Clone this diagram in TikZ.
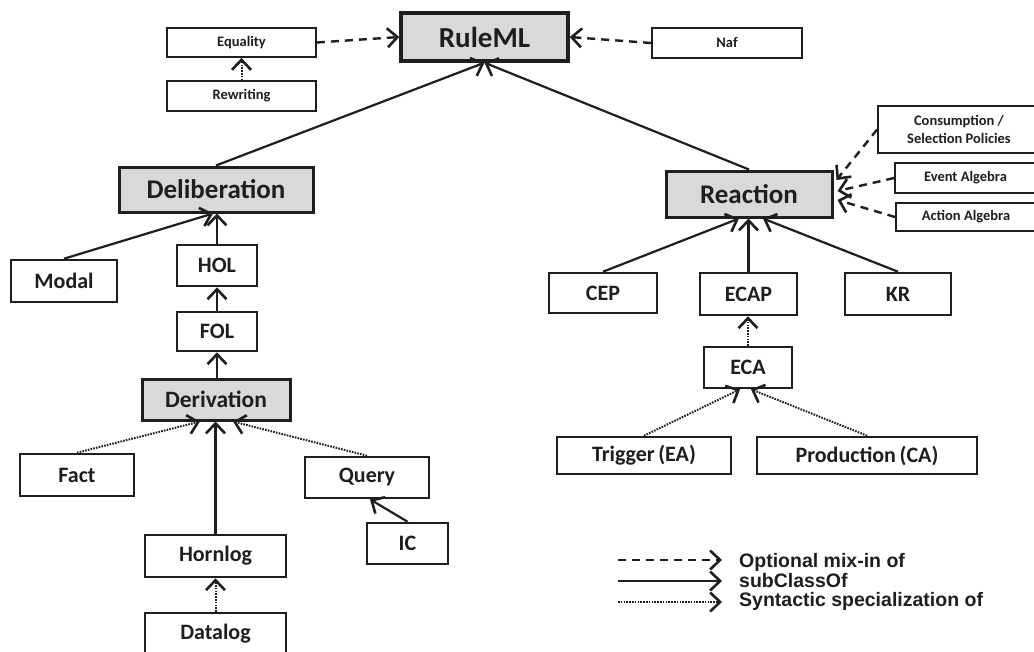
\documentclass[tikz,border=0pt]{standalone}
\usepackage{fontspec}
\setmainfont{Carlito}
\newfontfamily\legendfont{Liberation Sans}
\usetikzlibrary{arrows.meta,calc}
\definecolor{boxgray}{HTML}{D9D9D9}
\definecolor{ink}{HTML}{1E1E1E}
\begin{document}
\begin{tikzpicture}[x=1pt,y=-1pt,
  box/.style={draw=ink, line width=2.6pt, inner sep=0pt, text=ink,
    font=\bfseries\fontsize{22}{24}\selectfont, align=center},
  graybox/.style={box, fill=boxgray, line width=3pt},
  smallbox/.style={draw=ink, line width=1.8pt, inner sep=0pt, text=ink,
    font=\bfseries\fontsize{14.5}{17}\selectfont, align=center},
  tip/.style={-{Straight Barb[length=10pt,width=19pt,line width=2.6pt]}},
  subclass/.style={draw=ink, line width=2.2pt, tip},
  mixin/.style={draw=ink, line width=2.4pt, dash pattern=on 8pt off 6pt, tip},
  syntactic/.style={draw=ink, line width=2pt, dash pattern=on 1.6pt off 1.2pt, tip},
  legendtext/.style={anchor=west, inner sep=0pt, text=ink,
    font=\legendfont\bfseries\fontsize{19.5}{21}\selectfont}
]
\fill[white] (0,0) rectangle (1034,651);
\useasboundingbox (0,0) rectangle (1034,651);

% top level
\node[graybox, line width=3.4pt, minimum width=167, minimum height=48,
  font=\bfseries\fontsize{29}{31}\selectfont] (ruleml) at (484.5,37) {RuleML};
\node[smallbox, minimum width=149, minimum height=29] (equality) at (241.5,42.5) {Equality};
\node[smallbox, minimum width=149, minimum height=30] (rewriting) at (241.5,96) {Rewriting};
\node[smallbox, minimum width=150, minimum height=30] (naf) at (727,43) {Naf};

% deliberation branch
\node[graybox, minimum width=194, minimum height=45,
  font=\bfseries\fontsize{27}{29}\selectfont] (delib) at (216,189.5) {Deliberation};
\node[box, minimum width=106, minimum height=42] (modal) at (64,281) {Modal};
\node[box, minimum width=80, minimum height=41] (hol) at (217,265.5) {HOL};
\node[box, minimum width=80, minimum height=39] (fol) at (217,331.5) {FOL};
\node[graybox, minimum width=148, minimum height=41,
  font=\bfseries\fontsize{23.5}{25}\selectfont] (deriv) at (216,399.5) {Derivation};
\node[box, minimum width=114, minimum height=42] (fact) at (77,475) {Fact};
\node[box, minimum width=124, minimum height=41] (query) at (367,477.5) {Query};
\node[box, minimum width=81, minimum height=41] (ic) at (407.5,543.5) {IC};
\node[box, minimum width=141, minimum height=42] (hornlog) at (215.5,556) {Hornlog};
\node[box, minimum width=141, minimum height=42] (datalog) at (215.5,634) {Datalog};

% reaction branch
\node[graybox, minimum width=166, minimum height=46,
  font=\bfseries\fontsize{27}{29}\selectfont] (reaction) at (749,194) {Reaction};
\node[smallbox, minimum width=162, minimum height=47,
  font=\bfseries\fontsize{14.5}{17.5}\selectfont] (policies) at (959,129.5)
  {Consumption /\\Selection Policies};
\node[smallbox, minimum width=141, minimum height=30] (evalg) at (965.5,178) {Event Algebra};
\node[smallbox, minimum width=140, minimum height=28] (acalg) at (966,217) {Action Algebra};
\node[box, minimum width=108, minimum height=40] (cep) at (603,293) {CEP};
\node[box, minimum width=97, minimum height=42] (ecap) at (748.5,294) {ECAP};
\node[box, minimum width=106, minimum height=42] (kr) at (898,294) {KR};
\node[box, minimum width=88, minimum height=41] (eca) at (748,367.5) {ECA};
\node[box, minimum width=174, minimum height=37] (trigger) at (644,455.5) {Trigger\,(EA)};
\node[box, minimum width=220, minimum height=37] (production) at (867,455.5) {Production\,(CA)};

% optional mix-ins
\draw[mixin] (equality.east) -- (ruleml.west);
\draw[mixin] (naf.west) -- (ruleml.east);
\draw[mixin] (policies.west) -- ($(reaction.east)+(3,-14)$);
\draw[mixin] (evalg.west) -- ($(reaction.east)+(4,-3)$);
\draw[mixin] (acalg.west) -- ($(reaction.east)+(4,6)$);

% subclass relations
\draw[subclass] (delib.north) -- (ruleml.south);
\draw[subclass] (reaction.north) -- (ruleml.south);
\draw[subclass] (modal.north) -- ($(delib.south)+(-3,0)$);
\draw[subclass] (hol.north) -- (delib.south -| hol.north);
\draw[subclass] (fol.north) -- (hol.south);
\draw[subclass] (deriv.north -| fol.south) -- (fol.south);
\draw[subclass] (hornlog.north) -- (deriv.south -| hornlog.north);
\draw[subclass] (ic.north) -- ($(query.south)+(3,0)$);
\draw[subclass] (cep.north) -- ($(reaction.south)+(-10,0)$);
\draw[subclass] (ecap.north) -- (reaction.south -| ecap.north);
\draw[subclass] (kr.north) -- ($(reaction.south)+(14,0)$);

% syntactic specialisations
\draw[syntactic] (rewriting.north) -- (equality.south);
\draw[syntactic] (fact.north) -- ($(deriv.south)+(-16,0)$);
\draw[syntactic] (query.north) -- ($(deriv.south)+(17,0)$);
\draw[syntactic] (datalog.north) -- (hornlog.south);
\draw[syntactic] (eca.north) -- (ecap.south -| eca.north);
\draw[syntactic] (trigger.north) -- ($(eca.south)+(-8,0)$);
\draw[syntactic] (production.north) -- ($(eca.south)+(3,0)$);

% legend
\coordinate (m0) at (618,560); \coordinate (m1) at (722,560);
\coordinate (s0) at (618,581); \coordinate (s1) at (722,581);
\coordinate (d0) at (618,602); \coordinate (d1) at (722,602);
\draw[mixin, line width=2pt] (m0) -- (m1);
\draw[subclass] (s0) -- (s1);
\draw[syntactic, line width=1.6pt] (d0) -- (d1);
\node[legendtext] (lm) at (739,562) {Optional mix-in of};
\node[legendtext] (ls) at (739,581) {subClassOf};
\node[legendtext] (ld) at (739,601) {Syntactic specialization of};
\end{tikzpicture}
\end{document}
